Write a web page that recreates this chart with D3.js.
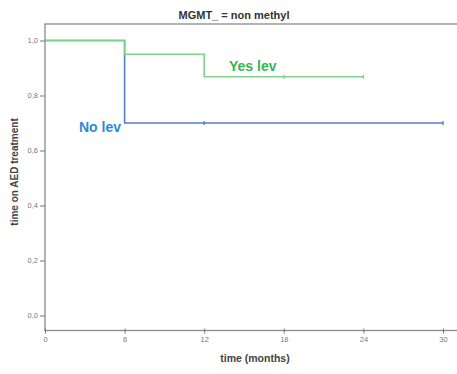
<!DOCTYPE html>
<html>
<head>
<meta charset="utf-8">
<script src="https://cdn.jsdelivr.net/npm/d3@7/dist/d3.min.js"></script>
<style>
  html, body { margin: 0; padding: 0; background: #fff; }
  svg { display: block; }
</style>
</head>
<body>
<svg id="chart" width="457" height="374"></svg>
<script>
// Kaplan-Meier steps: time (months) and survival proportion after each step
const yesTimes = [0, 6, 12, 24];
const yesSurv  = [1.0, 0.95, 0.868, 0.868];
const yesCensored = [18, 24];

const noTimes = [0, 6, 30];
const noSurv  = [1.0, 0.70, 0.70];
const noCensored = [12, 30];

const xTicks = [0, 6, 12, 18, 24, 30];
const yTicks = [0, 0.2, 0.4, 0.6, 0.8, 1.0];

const svg = d3.select("#chart");
const font = "Liberation Sans, Arial, sans-serif";

const x = d3.scaleLinear().domain([0, 30]).range([45, 443]);
const y = d3.scaleLinear().domain([0, 1]).range([315.5, 40.5]);

const frame = { left: 45, top: 24, right: 458, bottom: 330.5 };

// plot frame
svg.append("rect")
  .attr("x", frame.left).attr("y", frame.top)
  .attr("width", frame.right - frame.left).attr("height", frame.bottom - frame.top)
  .attr("fill", "none").attr("stroke", "#8a8a8a").attr("stroke-width", 1.3);

// y axis
const yAxis = svg.append("g").attr("transform", `translate(${frame.left},0)`)
  .call(d3.axisLeft(y).tickValues(yTicks).tickSize(5).tickPadding(2)
    .tickFormat(d => d3.format(".1f")(d).replace(".", ",")));
yAxis.select(".domain").remove();
yAxis.selectAll("line").attr("stroke", "#777");
yAxis.selectAll("text").attr("font-family", font).attr("font-size", 7.5).attr("fill", "#777");

// x axis
const xAxis = svg.append("g").attr("transform", `translate(0,${frame.bottom})`)
  .call(d3.axisBottom(x).tickValues(xTicks).tickSize(-4).tickPadding(6));
xAxis.select(".domain").remove();
xAxis.selectAll("line").attr("stroke", "#777").attr("y2", 3).attr("y1", -2);
xAxis.selectAll("text").attr("font-family", font).attr("font-size", 7.5).attr("fill", "#777");

// step curves
const step = d3.line().x(d => x(d[0])).y(d => y(d[1])).curve(d3.curveStepAfter);

function curve(times, surv, censored, color) {
  const pts = times.map((t, i) => [t, surv[i]]);
  svg.append("path").datum(pts)
    .attr("d", step).attr("fill", "none")
    .attr("stroke", color).attr("stroke-width", 1.6);
  const survAt = t => {
    let s = surv[0];
    times.forEach((tt, i) => { if (tt <= t) s = surv[i]; });
    return s;
  };
  svg.append("g").selectAll("line").data(censored).join("line")
    .attr("x1", d => x(d)).attr("x2", d => x(d))
    .attr("y1", d => y(survAt(d)) - 2).attr("y2", d => y(survAt(d)) + 2)
    .attr("stroke", color).attr("stroke-width", 1.3);
}

curve(noTimes, noSurv, noCensored, "#5a7bd2");
curve(yesTimes, yesSurv, yesCensored, "#7dd38c");

// group labels
svg.append("text").attr("x", 79).attr("y", 132)
  .attr("font-family", font).attr("font-size", 14).attr("font-weight", "bold")
  .attr("fill", "#2a8ad6").text("No lev");
svg.append("text").attr("x", 229).attr("y", 71)
  .attr("font-family", font).attr("font-size", 14).attr("font-weight", "bold")
  .attr("fill", "#35b553").text("Yes lev");

// title and axis titles
svg.append("text").attr("x", 234).attr("y", 19).attr("text-anchor", "middle")
  .attr("font-family", font).attr("font-size", 11).attr("font-weight", "bold").attr("fill", "#333")
  .text("MGMT_ = non methyl");
svg.append("text").attr("x", 255).attr("y", 362).attr("text-anchor", "middle")
  .attr("font-family", font).attr("font-size", 10.5).attr("font-weight", "bold").attr("fill", "#444")
  .text("time (months)");
svg.append("text").attr("transform", "translate(18,172) rotate(-90)").attr("text-anchor", "middle")
  .attr("font-family", font).attr("font-size", 10).attr("font-weight", "bold").attr("fill", "#444")
  .text("time on AED treatment");
</script>
</body>
</html>
